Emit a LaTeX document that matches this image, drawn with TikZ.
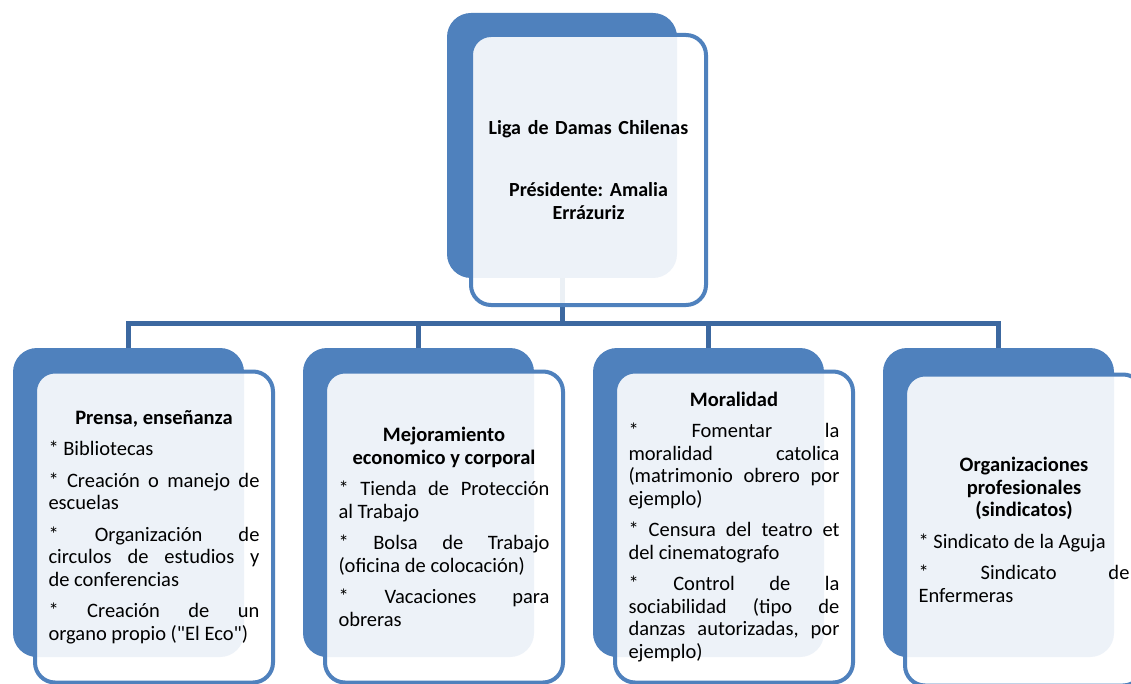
\documentclass[tikz,border=0pt]{standalone}
\usepackage{fontspec}
\setmainfont{Carlito}[Ligatures=TeXOff]
\usepackage{xcolor}
\usepackage{tikz}
\usetikzlibrary{positioning}
\definecolor{boxblue}{HTML}{4F81BD}
\definecolor{linkblue}{HTML}{3C68A0}
\newcommand\itemgap{\par\vspace{9pt}}
\hbadness=10000
\frenchspacing

\begin{document}
\begin{tikzpicture}[
    x=1pt, y=-1pt,
    backbox/.style={fill=boxblue, rounded corners=24pt, minimum width=231pt, minimum height=309pt},
    frontbox/.style={draw=boxblue, line width=4pt, fill=white, fill opacity=0.9, text opacity=1, rounded corners=20pt,
        minimum width=238pt, minimum height=311pt, text width=211pt, inner xsep=13.5pt, align=justify,
        font=\fontsize{20.5}{22.5}\selectfont},
    link/.style={draw=linkblue, line width=5pt}
]
\fill[white] (0,0) rectangle (1131,684);
\useasboundingbox (0,0) rectangle (1131,684);
\clip (0,0) rectangle (1131,684);

% back boxes
\node[backbox, minimum height=265pt, minimum width=230pt] (ligaback) at (562,145.5) {};
\node[backbox] (prensaback) at (128.5,502.5) {};
\node[backbox] (mejoraback) at (418.5,502.5) {};
\node[backbox] (moralback) at (708.5,502.5) {};
\node[backbox] (sindback) at (998.5,502.5) {};

% connectors
\draw[link] (ligaback.south) -- ++(0,45) -| (prensaback.north);
\draw[link] (ligaback.south) -- ++(0,45) -| (mejoraback.north);
\draw[link] (ligaback.south) -- ++(0,45) -| (moralback.north);
\draw[link] (ligaback.south) -- ++(0,45) -| (sindback.north);

% front boxes
\node[frontbox, minimum width=235pt, minimum height=270pt, text width=215pt, inner xsep=10pt, align=center,
      font=\fontsize{20}{22.5}\selectfont] (liga) at (588.5,170)
    {\bfseries Liga de Damas Chilenas\\[40pt]Présidente: Amalia\\ Errázuriz};
\node[frontbox] (prensa) at (154,527) {%
    {\centering\bfseries Prensa, enseñanza\par}
    \itemgap * Bibliotecas
    \itemgap * Creación o manejo de\linebreak escuelas
    \itemgap * Organización de\linebreak circulos de estudios y\linebreak de conferencias
    \itemgap * Creación de un\linebreak organo propio ("El Eco")};
\node[frontbox] (mejora) at (444,527) {%
    {\centering\bfseries Mejoramiento\\ economico y corporal\par}
    \itemgap * Tienda de Protección\linebreak al Trabajo
    \itemgap * Bolsa de Trabajo\linebreak (oficina de colocación)
    \itemgap * Vacaciones para\linebreak obreras};
\node[frontbox] (moral) at (734,527) {%
    {\centering\bfseries Moralidad\par}
    \itemgap * Fomentar la\linebreak moralidad catolica\linebreak (matrimonio obrero por\linebreak ejemplo)
    \itemgap * Censura del teatro et\linebreak del cinematografo
    \itemgap * Control de la\linebreak sociabilidad (tipo de\linebreak danzas autorizadas, por\linebreak ejemplo)};
\node[frontbox] (sind) at (1024,530) {%
    {\centering\bfseries Organizaciones\\ profesionales\\ (sindicatos)\par}
    \itemgap * Sindicato de la Aguja
    \itemgap * Sindicato de\linebreak Enfermeras};

\end{tikzpicture}
\end{document}
